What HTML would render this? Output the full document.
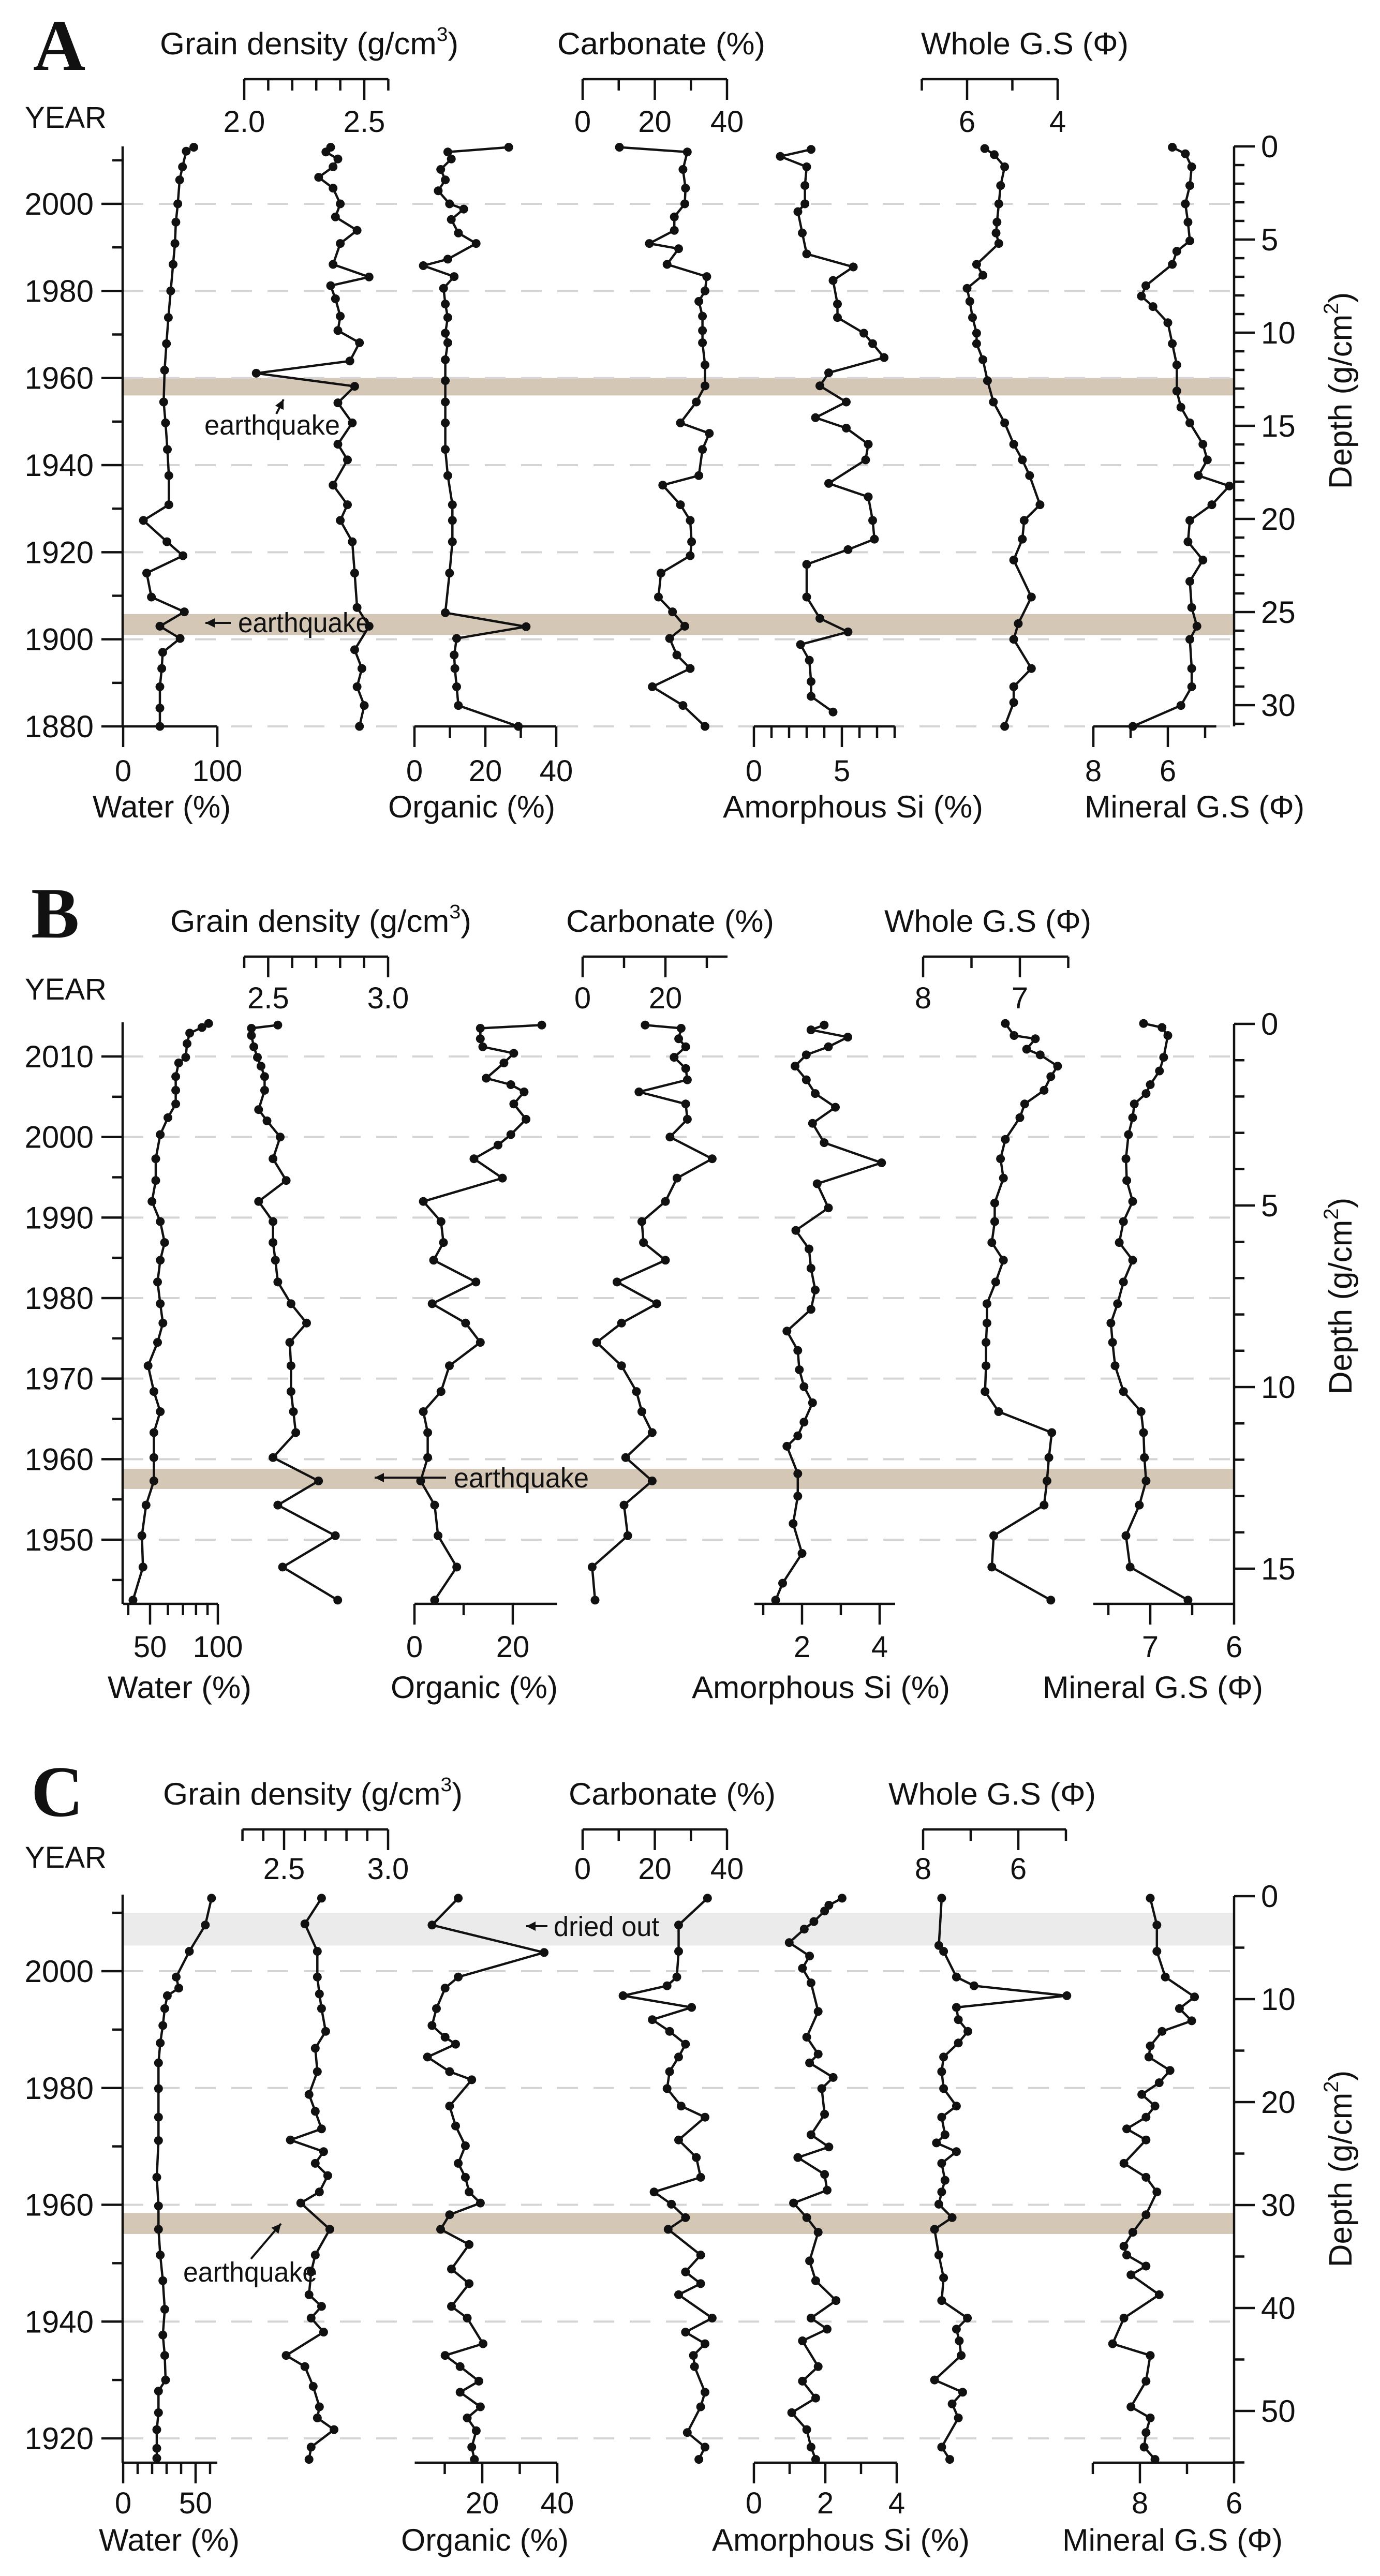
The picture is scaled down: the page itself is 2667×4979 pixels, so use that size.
<!DOCTYPE html>
<html><head><meta charset="utf-8"><style>
html,body{margin:0;padding:0;background:#fff;}
svg{display:block;}
text{font-family:"Liberation Sans",Arial,sans-serif;fill:#111;}
</style></head>
<body>
<svg id="fig" xmlns="http://www.w3.org/2000/svg" width="2667" height="4979" viewBox="0 0 2667 4979"></svg>
<script>
// ===== Panel A data =====
const A_water_year=[2013.0,2012.1,2008.5,2005.5,2000,1995.8,1990.9,1986.1,1980,1973.9,1967.9,1961.8,1954.5,1949.7,1943.6,1937.6,1930.9,1927.3,1922.4,1919.2,1915.2,1909.7,1906.3,1903,1900.2,1897,1893.3,1889.1,1884.2,1880];
const A_water=[75,67,63,60,58,56,55,53,50.5,48,46,44,43,45,47,48.5,48.5,21.5,46.5,63.5,25,30,65,39,60.5,42,41,39,39,39];
const A_grain_year=[2013,2011.9,2010.3,2008.5,2006.1,2003.6,2000,1997,1993.9,1990.9,1986.1,1983.2,1981.2,1978.2,1974.2,1970.9,1968.1,1963.9,1961.1,1958.1,1954.3,1949.7,1944.8,1941.2,1935.4,1930.9,1927.3,1922.4,1915.2,1907.3,1903,1897.6,1893.3,1889.1,1884.8,1880];
const A_grain=[2.36,2.34,2.39,2.37,2.31,2.37,2.40,2.38,2.47,2.40,2.37,2.52,2.36,2.38,2.40,2.39,2.48,2.44,2.05,2.46,2.39,2.45,2.39,2.43,2.37,2.43,2.40,2.45,2.46,2.47,2.52,2.46,2.49,2.47,2.50,2.48];
const A_org_year=[2013,2011.9,2010.3,2007.9,2005.5,2003,2000,1998.8,1996.4,1993.3,1990.9,1987.3,1985.8,1983.3,1980.6,1977,1973.9,1970.3,1968.1,1964.2,1959.4,1954.5,1949.7,1943.6,1937.6,1930.9,1927.3,1922.4,1915.2,1906.1,1902.9,1900.2,1896.4,1893.3,1889.1,1884.8,1880];
const A_org=[26.6,9.4,10.4,7.4,8.7,6.7,9.9,13.9,10.4,12.4,17.4,9.4,2.5,11.2,8.2,8.7,9.4,8.7,9.4,8.7,8.7,8.7,8.7,8.7,9.4,10.7,10.7,10.7,9.9,8.7,31.5,11.9,11.2,11.4,11.9,12.4,29.3];
const A_carb_year=[2013,2011.9,2007.9,2003.6,2000,1997,1993.9,1990.9,1989.7,1986.1,1983.3,1980,1977.6,1974.2,1970.9,1968.1,1963,1958.2,1954.5,1949.7,1947.3,1943.6,1937.6,1935.4,1930.9,1927.3,1922.4,1919.2,1915.2,1909.7,1906.3,1903,1900.2,1896.4,1893.3,1889.1,1884.8,1880];
const A_carb=[10.2,29,27.8,28.5,28.3,25.4,25.4,18.5,26.6,23.4,34.4,33.9,32.2,33.2,33.2,33.2,33.9,33.9,31.5,27.1,35.1,33.2,32.2,22.2,27.1,29.8,30.2,29.8,21.7,21,24.9,28.3,24.1,26.1,29.8,19.3,27.8,33.9];
const A_amor_year=[2012.5,2010.9,2008.5,2004.2,2000,1998.2,1993.3,1988.5,1985.5,1982.4,1977,1973.9,1970.3,1967.9,1964.7,1961.2,1958.2,1954.5,1950.9,1948.5,1944.8,1941.2,1935.8,1932.7,1927.3,1923,1920.6,1917.2,1909.7,1904.8,1901.7,1898.8,1895.2,1890.3,1886.9,1883.3];
const A_amor=[3.25,1.5,3,2.9,2.9,2.5,2.75,3,5.65,4.5,4.75,4.75,6.25,6.75,7.4,4.25,3.75,5.25,3.5,5.25,6.5,6.35,4.25,6.5,6.75,6.85,5.35,3,3,3.75,5.35,2.65,3.15,3.25,3.25,4.5];
const A_whole_year=[2012.7,2011.3,2008.5,2004.2,2000,1995.8,1993.3,1990.9,1986.1,1983.6,1980.6,1977.6,1973.9,1970.3,1967.9,1964.2,1959.4,1954.5,1949.7,1944.8,1941.2,1937.6,1930.9,1927.3,1923,1918.2,1909.7,1903.6,1900,1893.3,1889.1,1885.5,1880];
const A_whole=[5.61,5.4,5.17,5.26,5.3,5.34,5.36,5.3,5.79,5.65,6,5.94,5.88,5.79,5.79,5.65,5.55,5.42,5.17,4.97,4.78,4.62,4.39,4.74,4.78,4.97,4.58,4.87,4.97,4.58,4.97,4.97,5.17];
const A_min_year=[2013,2011.5,2008.5,2004.2,2000,1995.8,1991.5,1989.1,1986.1,1981.2,1978.8,1976.4,1972.7,1967.9,1963,1957,1953.3,1949.7,1944.8,1941.2,1937.6,1935.2,1930.9,1927.3,1922.4,1918.2,1913.3,1907.3,1903,1900,1893.3,1889.1,1884.8,1880];
const A_min=[5.88,5.53,5.36,5.41,5.53,5.46,5.41,5.76,5.88,6.59,6.71,6.4,6,5.88,5.76,5.76,5.65,5.41,5.06,4.94,5.18,4.35,4.82,5.41,5.46,5.06,5.41,5.36,5.22,5.41,5.36,5.36,5.65,6.94];
// ===== Panel B data =====
const B_water_year=[2014.1,2013.6,2012.9,2011.6,2009.9,2009.2,2007.5,2005.8,2004.1,2002.4,2000.3,1997.3,1994.6,1992,1989.5,1986.9,1984.7,1982,1979.3,1976.9,1974.5,1971.6,1968.4,1965.9,1963.3,1960.2,1957.3,1954.3,1950.5,1946.6,1942.5];
const B_water=[91,85,75,73,72,67,65,65,65,60,55.5,53,53,51,55.5,58,55.5,54,55.5,57,54,49,52,55.5,52,52,52,48,46,46.5,42];
const B_grain_year=[2013.9,2013.5,2012.6,2011.2,2009.9,2008.8,2007.5,2005.8,2003.4,2002,2000,1997.3,1994.6,1992,1989.5,1986.9,1984.7,1982,1979.3,1976.9,1974.5,1971.6,1968.4,1965.9,1963.3,1960.2,1957.3,1954.3,1950.5,1946.6,1942.5];
const B_grain=[2.54,2.43,2.43,2.44,2.455,2.47,2.485,2.485,2.46,2.495,2.55,2.52,2.575,2.46,2.52,2.52,2.53,2.54,2.595,2.66,2.59,2.595,2.595,2.605,2.615,2.52,2.71,2.54,2.78,2.56,2.79];
const B_org_year=[2013.9,2013.5,2012.2,2011.2,2010.4,2009.2,2007.3,2006.5,2005.6,2004.1,2002.2,2000.3,1999,1997.3,1994.9,1992,1989.5,1986.9,1984.7,1982,1979.3,1976.9,1974.5,1971.6,1968.4,1965.9,1963.3,1960.2,1957.3,1954.3,1950.5,1946.6,1942.5];
const B_org=[25.9,13.4,13.4,13.9,20.2,18.2,14.6,19.6,22.3,20.2,22.7,19.6,17,12.1,17.9,1.8,5.4,5.9,3.9,12.5,3.6,10.4,13.4,7.1,5.4,1.8,2.7,2.7,1.25,4.1,4.8,8.6,4.1];
const B_carb_year=[2013.9,2013.5,2012.2,2011.2,2009.9,2008.5,2007.1,2005.6,2004.1,2002.2,2000,1997.3,1994.9,1992,1989.5,1986.9,1984.7,1982,1979.3,1976.9,1974.5,1971.6,1968.4,1965.9,1963.3,1960.2,1957.3,1954.3,1950.5,1946.6,1942.5];
const B_carb=[15.1,23.8,23.2,24.9,22.1,24.9,25.3,13.6,24.9,25.3,21.1,31.3,22.8,20,14.3,14.7,20,8.3,17.9,9.4,3.4,9.4,13,14.3,16.8,10.4,16.8,10,10.9,2.3,3];
const B_amor_year=[2013.9,2013.3,2012.4,2011.2,2010.2,2008.8,2007.1,2005.4,2003.7,2001.7,1999.3,1996.8,1994.2,1991.2,1988.4,1986.1,1983.7,1981,1978.6,1975.9,1973.5,1971.1,1969,1967,1964.6,1962.9,1961.6,1958.2,1955.4,1952,1948.3,1944.6,1942.5];
const B_amor=[2.57,2.23,3.18,2.68,2.11,1.82,2.11,2.34,2.86,2.27,2.57,4.05,2.39,2.68,1.84,2.18,2.23,2.34,2.23,1.61,1.89,1.93,2.05,2.27,2.05,1.89,1.61,1.89,1.89,1.77,2,1.5,1.32];
const B_whole_year=[2014.1,2012.6,2012.2,2010.9,2010.2,2008.8,2007.5,2005.8,2004.1,2002.4,1999.7,1997.3,1994.9,1991.8,1989.5,1986.9,1984.7,1982,1979.3,1976.9,1974.5,1971.6,1968.4,1965.9,1963.3,1960.2,1957.3,1954.3,1950.5,1946.6,1942.5];
const B_whole=[7.15,7.06,6.84,6.93,6.79,6.61,6.68,6.75,6.95,7,7.15,7.2,7.17,7.26,7.26,7.29,7.17,7.25,7.34,7.34,7.35,7.35,7.36,7.22,6.67,6.7,6.72,6.75,7.27,7.29,6.68];
const B_min_year=[2014.1,2013.6,2012.6,2009.9,2008.2,2006.5,2005.4,2004.1,2002.4,2000.3,1997.3,1994.6,1992,1989.5,1986.9,1984.7,1982,1979.3,1976.9,1974.5,1971.6,1968.4,1965.9,1963.3,1960.2,1957.3,1954.3,1950.5,1946.6,1942.5];
const B_min=[7.08,6.86,6.79,6.84,6.89,7,7.05,7.19,7.21,7.26,7.29,7.28,7.21,7.32,7.37,7.21,7.32,7.39,7.47,7.45,7.42,7.32,7.11,7.08,7.07,7.05,7.13,7.29,7.24,6.55];
// ===== Panel C data =====
const C_water_year=[2012.5,2007.9,2003.4,1999,1997.1,1995.8,1993.6,1990.7,1987.7,1984.3,1979.9,1975,1971,1964.7,1959.8,1955.8,1951.4,1947,1942.1,1937.7,1934.2,1930,1928.1,1924.4,1921.5,1918.3,1916.6];
const C_water=[61,56.7,45.7,36.6,38.4,30.5,28.7,27.4,25.6,24.4,24.4,24.4,24.4,23.2,24.4,24.4,25.6,27.4,28.7,27.4,28.7,29.3,24.4,24.4,23.2,23.2,23.2];
const C_grain_year=[2012.5,2008.1,2003.4,1999,1996.1,1993.6,1989.7,1986.8,1982.8,1978.9,1976,1973,1971.1,1969.1,1967.1,1965,1962.2,1960.3,1955.8,1951.4,1948.5,1944.6,1942.6,1940.6,1938.2,1934.2,1932.3,1928.9,1925.4,1923.5,1921.5,1918.5,1916.4];
const C_grain=[2.68,2.6,2.66,2.66,2.67,2.68,2.70,2.65,2.66,2.62,2.65,2.68,2.53,2.69,2.65,2.71,2.67,2.58,2.72,2.65,2.63,2.62,2.68,2.63,2.69,2.51,2.6,2.64,2.67,2.66,2.74,2.63,2.62];
const C_org_year=[2012.5,2007.9,2003.2,1999,1997.1,1993.6,1990.7,1988.7,1987.5,1985.3,1982.8,1981.4,1976.9,1973.5,1970.1,1967.1,1964.7,1962.2,1960.3,1958.3,1955.8,1953.2,1949,1946.5,1942.6,1940.6,1936.2,1934.2,1932.3,1929.8,1927.9,1925.4,1923.5,1921.3,1918.5,1916.4];
const C_org=[13.6,6.6,36.5,13.6,10.1,7.8,6.6,10.1,12.9,5.4,11.3,17.2,11.3,12.9,15.5,13.6,15.5,16.5,19.5,11.3,8.9,16.5,11.8,16.5,11.8,16,20.2,10.1,14.1,19.1,14.1,19.5,16,18.4,17.2,17.9];
const C_carb_year=[2012.5,2007.9,2003.4,1999,1997.5,1995.8,1993.8,1991.7,1989.7,1987.5,1985.3,1982.8,1979.9,1976.9,1975,1971.1,1968.1,1964.7,1962.2,1960.1,1957.8,1955.8,1951.4,1948.5,1946.5,1944.6,1940.6,1938.2,1936.2,1934.2,1932.3,1927.9,1925.4,1921,1918.5,1916.4];
const C_carb=[34.6,26.6,26.6,26.1,23.4,11.2,30.2,19.3,24.1,28.5,26.6,24.1,23.4,27.3,33.9,26.6,31.5,32.7,19.8,24.6,28.5,23.7,32.7,28.5,32.7,26.6,35.9,28.5,33.9,30.7,31,33.9,32.7,29,33.9,32.2];
const C_amor_year=[2012.5,2011.3,2010.3,2008.5,2007.2,2004.9,2002.6,2000.5,1998,1993.1,1988.7,1985.8,1984.3,1981.8,1979.9,1975.5,1972,1969.9,1968.1,1965.2,1962.5,1960.3,1957.8,1955.3,1950.4,1947,1943.6,1940.6,1938.7,1936.7,1932.3,1929.8,1926.9,1924.4,1921.5,1918.5,1916.4];
const C_amor=[2.47,2.1,1.98,1.68,1.41,0.99,1.56,1.36,1.6,1.8,1.48,1.8,1.56,2.22,1.9,1.98,1.6,2.1,1.23,1.98,2.05,1.11,1.48,1.8,1.56,1.73,2.3,1.6,2.05,1.36,1.8,1.36,1.73,1.06,1.48,1.6,1.73];
const C_whole_year=[2012.5,2004.4,2003.4,1999,1997.5,1995.8,1993.8,1991.7,1989.7,1987.7,1985.3,1982.8,1979.9,1976.9,1975,1972,1970.6,1969.1,1967.1,1964.2,1962.2,1960.1,1957.8,1955.8,1951.4,1947.5,1943.6,1940.6,1938.7,1936.7,1934.2,1930,1927.9,1925.9,1923.5,1918.5,1916.4];
const C_whole=[7.61,7.67,7.57,7.3,6.93,4.98,7.3,7.26,7.06,7.26,7.57,7.61,7.57,7.3,7.61,7.54,7.72,7.3,7.61,7.54,7.61,7.67,7.39,7.76,7.67,7.57,7.61,7.07,7.3,7.24,7.2,7.76,7.17,7.39,7.26,7.61,7.44];
const C_min_year=[2012.5,2007.9,2003.4,1999,1995.6,1993.6,1991.5,1989.7,1987.2,1985.3,1983,1980.9,1978.9,1976.9,1975,1973,1971.1,1967.1,1964.7,1962.2,1958.3,1955.3,1952.9,1951.4,1949.5,1948,1944.6,1940.6,1936.2,1934.2,1929.8,1925.4,1923.5,1921,1918.5,1916.4];
const C_min=[7.78,7.64,7.64,7.46,6.84,7.16,6.9,7.53,7.78,7.81,7.36,7.59,7.96,7.68,7.87,8.28,7.87,8.34,7.87,7.64,7.87,8.15,8.34,8.28,7.87,8.19,7.59,8.34,8.58,7.78,7.87,8.19,7.78,7.87,7.91,7.68];

const NS="http://www.w3.org/2000/svg";
const svg=document.getElementById('fig');
function mk(tag,attrs,parent){const e=document.createElementNS(NS,tag);for(const k in attrs)e.setAttribute(k,attrs[k]);(parent||svg).appendChild(e);return e;}
function lin(d0,p0,d1,p1){return v=>p0+(v-d0)*(p1-p0)/(d1-d0);}
function logs(d0,p0,d1,p1){const a=Math.log10(d0),b=Math.log10(d1);return v=>p0+(Math.log10(v)-a)*(p1-p0)/(b-a);}
function txt(x,y,s,size,anchor,parent){const t=mk('text',{x:x,y:y,'font-size':size,'text-anchor':anchor||'start'},parent);t.textContent=s;return t;}
function fmt(v,d){return d?v.toFixed(d):String(v);}
const YAX=237, DAX=2385, LW=4.5;

function drawAxis(g,ax,yLine){
  const s=ax.scale;
  const x0=s(ax.domain[0]),x1=s(ax.domain[1]);
  const line=mk('line',{x1:x0,y1:yLine,x2:x1,y2:yLine,stroke:'#111','stroke-width':LW},g);
  
  
  ax.ticks.forEach(v=>{
    const maj=ax.major.indexOf(v)>=0;
    mk('line',{x1:s(v),y1:yLine,x2:s(v),y2:yLine+(maj?40:22),stroke:'#111','stroke-width':LW},g);
  });
  ax.labels.forEach(v=>{
    const t=txt(s(v),ax.labelY,fmt(v,ax.dec),58,'middle',g);
    
    
  });
  const tt=mk('text',{x:ax.title[0],y:ax.titleY,'font-size':60,textLength:ax.title[1]-ax.title[0],lengthAdjust:'spacingAndGlyphs'},g);
  
  
  if(ax.sup){tt.textContent=ax.text;const sp=mk('tspan',{'font-size':38,dy:-26},tt);sp.textContent=ax.sup;const c=mk('tspan',{dy:26},tt);c.textContent=')';}
  else tt.textContent=ax.text;
}

function drawSeries(g,P,name,years,vals,scale){
  const sg=mk('g',{},g);
  
  
  const pts=years.map((y,i)=>[scale(vals[i]),P.yy(y)]);
  const pl=mk('polyline',{points:pts.map(p=>p[0].toFixed(1)+','+p[1].toFixed(1)).join(' '),fill:'none',stroke:'#111','stroke-width':LW,'stroke-linejoin':'round'},sg);
  
  
  pts.forEach(p=>{
    const c=mk('circle',{cx:p[0].toFixed(1),cy:p[1].toFixed(1),r:8.5,fill:'#111'},sg);
    
    
  });
}

function arrow(g,x1,y1,x2,y2){
  mk('line',{x1:x1,y1:y1,x2:x2,y2:y2,stroke:'#111','stroke-width':4},g);
  const a=Math.atan2(y2-y1,x2-x1),L=18,W=9;
  const bx=x2-L*Math.cos(a),by=y2-L*Math.sin(a);
  mk('polygon',{points:`${x2},${y2} ${bx+W*Math.sin(a)},${by-W*Math.cos(a)} ${bx-W*Math.sin(a)},${by+W*Math.cos(a)}`,fill:'#111'},g);
}

function panel(P){
  const g=mk('g',{});
  
  
  // bands
  P.bands.forEach(b=>{
    const r=mk('rect',{x:YAX,y:P.yy(b[0]),width:DAX-YAX,height:P.yy(b[1])-P.yy(b[0]),fill:b[2]},g);
    
    
  });
  // grid
  P.grid.forEach(yr=>{
    const l=mk('line',{x1:YAX,y1:P.yy(yr),x2:DAX,y2:P.yy(yr),stroke:'#d4d4d4','stroke-width':4,'stroke-dasharray':'40 30'},g);
    
    
  });
  // panel letter and YEAR
  const L=mk('text',{x:P.letterX,y:P.letterY,'font-size':140,'font-weight':'bold',style:'font-family:"Liberation Serif",serif'},g);
  L.textContent=P.id;
  
  
  const Y=txt(48,P.yearLabelY,'YEAR',58,'start',g);
  
  
  // year axis
  const ya=mk('line',{x1:YAX,y1:P.top,x2:YAX,y2:P.bottom,stroke:'#111','stroke-width':LW},g);
  
  
  P.yTicks.forEach(yr=>{
    const maj=P.yLabels.indexOf(yr)>=0;
    mk('line',{x1:YAX,y1:P.yy(yr),x2:YAX-(maj?41:20),y2:P.yy(yr),stroke:'#111','stroke-width':LW},g);
  });
  P.yLabels.forEach(yr=>{
    const t=txt(181,P.yy(yr)+21,String(yr),60,'end',g);
    
    
  });
  // depth axis
  const da=mk('line',{x1:DAX,y1:P.dd(0),x2:DAX,y2:P.bottom,stroke:'#111','stroke-width':LW},g);
  
  
  P.dTicks.forEach(d=>{
    const maj=P.dLabels.indexOf(d)>=0;
    mk('line',{x1:DAX,y1:P.dd(d),x2:DAX+(maj?40:20),y2:P.dd(d),stroke:'#111','stroke-width':LW},g);
  });
  P.dLabels.forEach(d=>{
    const t=txt(2437,P.dd(d)+21,String(d),60,'start',g);
    
    
  });
  const dt=mk('text',{x:0,y:0,'font-size':62,'text-anchor':'middle',transform:`translate(2612,${P.depthTitleY}) rotate(-90)`},g);
  
  
  dt.textContent='Depth (g/cm';
  const s2=mk('tspan',{'font-size':40,dy:-26},dt);s2.textContent='2';
  const s3=mk('tspan',{dy:26},dt);s3.textContent=')';
  // axes
  P.axes.forEach(ax=>drawAxis(g,ax,ax.side==='top'?P.topY:P.bottom));
  // series
  P.series.forEach(s=>drawSeries(g,P,s[0],s[1],s[2],s[3].scale));
  // annotations
  P.notes.forEach(n=>{
    const ng=mk('g',{},g);
    
    
    arrow(ng,n.a[0],n.a[1],n.a[2],n.a[3]);
    const t=mk('text',{x:n.t[0],y:n.t[1],'font-size':54,textLength:n.t[2],lengthAdjust:'spacingAndGlyphs'},ng);
    t.textContent=n.s;
  });
}
function range(a,b,st){const r=[];for(let v=a;v<=b+1e-9;v+=st)r.push(Math.round(v*1000)/1000);return r;}

// ---------- Panel A ----------
const PA={id:'A',letterX:64,letterY:135,yearLabelY:247,top:283,bottom:1404,topY:153,
  yy:lin(2000,394,1880,1404),dd:lin(0,283,30,1363),depthTitleY:755,
  yTicks:range(1880,2010,10),yLabels:[1880,1900,1920,1940,1960,1980,2000],grid:range(1880,2000,20),
  dTicks:range(0,31,1),dLabels:[0,5,10,15,20,25,30],
  bands:[[1960,1956,'#d5c7b6','earthquake-band-1960'],[1905.8,1901,'#d5c7b6','earthquake-band-1903']],
  notes:[{name:'earthquake-annotation-1960',a:[534,800,548,772],t:[395,840,262],s:'earthquake'},
         {name:'earthquake-annotation-1903',a:[446,1204,397,1204],t:[460,1222,256],s:'earthquake'}]};
const aA={
 grain:{name:'grain-density',side:'top',scale:lin(2.0,472,2.5,704),domain:[2.0,2.6],ticks:range(2.0,2.6,0.1),major:[2,2.5],labels:[2.0,2.5],dec:1,labelY:255,titleY:105,title:[309,886],text:'Grain density (g/cm',sup:'3'},
 carb:{name:'carbonate',side:'top',scale:lin(0,1126,40,1405),domain:[0,40],ticks:[0,10,20,30,40],major:[0,20,40],labels:[0,20,40],labelY:255,titleY:105,title:[1077,1479],text:'Carbonate (%)'},
 whole:{name:'whole-grain-size',side:'top',scale:lin(6,1869,4,2044),domain:[7,4],ticks:[7,6,5,4],major:[6,4],labels:[6,4],labelY:255,titleY:105,title:[1780,2181],text:'Whole G.S (Φ)'},
 water:{name:'water',side:'bottom',scale:lin(0,238,100,420),domain:[0,100],ticks:[0,100],major:[0,100],labels:[0,100],labelY:1510,titleY:1580,title:[179,446],text:'Water (%)'},
 org:{name:'organic',side:'bottom',scale:lin(0,801,40,1075),domain:[0,40],ticks:[0,10,20,30,40],major:[0,20,40],labels:[0,20,40],labelY:1510,titleY:1580,title:[750,1073],text:'Organic (%)'},
 amor:{name:'amorphous-si',side:'bottom',scale:lin(0,1457,5,1627),domain:[0,8],ticks:range(0,8,1),major:[0,5],labels:[0,5],labelY:1510,titleY:1580,title:[1397,1900],text:'Amorphous Si (%)'},
 min:{name:'mineral-grain-size',side:'bottom',scale:lin(8,2113,6,2257),domain:[8,4.7],ticks:[8,7,6,5],major:[8,6],labels:[8,6],labelY:1510,titleY:1580,title:[2096,2521],text:'Mineral G.S (Φ)'}};
PA.axes=Object.values(aA);
PA.series=[['A-water',A_water_year,A_water,aA.water],['A-grain-density',A_grain_year,A_grain,aA.grain],['A-organic',A_org_year,A_org,aA.org],['A-carbonate',A_carb_year,A_carb,aA.carb],['A-amorphous-si',A_amor_year,A_amor,aA.amor],['A-whole-gs',A_whole_year,A_whole,aA.whole],['A-mineral-gs',A_min_year,A_min,aA.min]];
panel(PA);

// ---------- Panel B ----------
const PB={id:'B',letterX:60,letterY:1812,yearLabelY:1932,top:1976,bottom:3100,topY:1849,
  yy:lin(2010,2042,1950,2976),dd:lin(0,1979,10,2681),depthTitleY:2505,
  yTicks:range(1945,2010,5),yLabels:[1950,1960,1970,1980,1990,2000,2010],grid:range(1950,2010,10),
  dTicks:range(0,15,1),dLabels:[0,5,10,15],
  bands:[[1958.8,1956.3,'#d5c7b6','earthquake-band-1957']],
  notes:[{name:'earthquake-annotation-1957',a:[862,2856,724,2856],t:[877,2875,261],s:'earthquake'}]};
const aB={
 grain:{name:'grain-density',side:'top',scale:lin(2.4,472,3.0,750),domain:[2.4,3.0],ticks:range(2.4,3.0,0.1),major:[2.5,3],labels:[2.5,3.0],dec:1,labelY:1949,titleY:1801,title:[329,911],text:'Grain density (g/cm',sup:'3'},
 carb:{name:'carbonate',side:'top',scale:lin(0,1126,20,1286),domain:[0,35],ticks:[0,10,20,30],major:[0,20],labels:[0,20],labelY:1949,titleY:1801,title:[1094,1496],text:'Carbonate (%)'},
 whole:{name:'whole-grain-size',side:'top',scale:lin(8,1784,7,1971),domain:[8,6.5],ticks:[8,7.5,7,6.5],major:[8,7],labels:[8,7],labelY:1949,titleY:1801,title:[1709,2109],text:'Whole G.S (Φ)'},
 water:{name:'water',side:'bottom',scale:logs(50,290,100,421),domain:[38,100],ticks:[40,50,60,70,80,90,100],major:[50,100],labels:[50,100],labelY:3203,titleY:3282,title:[208,486],text:'Water (%)'},
 org:{name:'organic',side:'bottom',scale:lin(0,801,20,991),domain:[0,29],ticks:[0,10,20],major:[0,20],labels:[0,20],labelY:3203,titleY:3282,title:[755,1078],text:'Organic (%)'},
 amor:{name:'amorphous-si',side:'bottom',scale:lin(2,1550,4,1700),domain:[0.77,4.4],ticks:[1,2,3,4],major:[2,4],labels:[2,4],labelY:3203,titleY:3282,title:[1337,1836],text:'Amorphous Si (%)'},
 min:{name:'mineral-grain-size',side:'bottom',scale:lin(7,2223,6,2385),domain:[7.68,6],ticks:[7.5,7,6.5,6],major:[7,6],labels:[7,6],labelY:3203,titleY:3282,title:[2015,2441],text:'Mineral G.S (Φ)'}};
PB.axes=Object.values(aB);
PB.series=[['B-water',B_water_year,B_water,aB.water],['B-grain-density',B_grain_year,B_grain,aB.grain],['B-organic',B_org_year,B_org,aB.org],['B-carbonate',B_carb_year,B_carb,aB.carb],['B-amorphous-si',B_amor_year,B_amor,aB.amor],['B-whole-gs',B_whole_year,B_whole,aB.whole],['B-mineral-gs',B_min_year,B_min,aB.min]];
panel(PB);

// ---------- Panel C ----------
const PC={id:'C',letterX:60,letterY:3510,yearLabelY:3610,top:3662,bottom:4760,topY:3536,
  yy:lin(2000,3810,1920,4713),dd:lin(0,3665,50,4660),depthTitleY:4192,
  yTicks:range(1920,2010,10),yLabels:[1920,1940,1960,1980,2000],grid:range(1920,2000,20),
  dTicks:range(0,55,5),dLabels:[0,10,20,30,40,50],
  bands:[[2010,2004.4,'#ebebeb','dried-out-band'],[1958.6,1955,'#d5c7b6','earthquake-band-1957']],
  notes:[{name:'dried-out-annotation',a:[1058,3723,1017,3723],t:[1070,3742,204],s:'dried out'},
         {name:'earthquake-annotation-1957',a:[485,4366,543,4298],t:[354,4410,259],s:'earthquake'}]};
const aC={
 grain:{name:'grain-density',side:'top',scale:lin(2.5,549,3.0,750),domain:[2.3,3.0],ticks:range(2.3,3.0,0.1),major:[2.5,3],labels:[2.5,3.0],dec:1,labelY:3632,titleY:3488,title:[315,894],text:'Grain density (g/cm',sup:'3'},
 carb:{name:'carbonate',side:'top',scale:lin(0,1126,40,1405),domain:[0,40],ticks:[0,10,20,30,40],major:[0,20,40],labels:[0,20,40],labelY:3632,titleY:3488,title:[1099,1499],text:'Carbonate (%)'},
 whole:{name:'whole-grain-size',side:'top',scale:lin(8,1784,6,1968),domain:[8,5],ticks:[8,7,6,5],major:[8,6],labels:[8,6],labelY:3632,titleY:3488,title:[1717,2118],text:'Whole G.S (Φ)'},
 water:{name:'water',side:'bottom',scale:lin(0,238,50,378),domain:[0,65],ticks:[0,10,20,30,40,50,60],major:[0,50],labels:[0,50],labelY:4858,titleY:4930,title:[191,463],text:'Water (%)'},
 org:{name:'organic',side:'bottom',scale:lin(20,932,40,1077),domain:[2,40],ticks:[10,20,30,40],major:[20,40],labels:[20,40],labelY:4858,titleY:4930,title:[775,1099],text:'Organic (%)'},
 amor:{name:'amorphous-si',side:'bottom',scale:lin(0,1457,4,1733),domain:[0,4],ticks:[0,1,2,3,4],major:[0,2,4],labels:[0,2,4],labelY:4858,titleY:4930,title:[1376,1874],text:'Amorphous Si (%)'},
 min:{name:'mineral-grain-size',side:'bottom',scale:lin(8,2203,6,2385),domain:[9,6],ticks:[9,8,7,6],major:[8,6],labels:[8,6],labelY:4858,titleY:4930,title:[2053,2479],text:'Mineral G.S (Φ)'}};
PC.axes=Object.values(aC);
PC.series=[['C-water',C_water_year,C_water,aC.water],['C-grain-density',C_grain_year,C_grain,aC.grain],['C-organic',C_org_year,C_org,aC.org],['C-carbonate',C_carb_year,C_carb,aC.carb],['C-amorphous-si',C_amor_year,C_amor,aC.amor],['C-whole-gs',C_whole_year,C_whole,aC.whole],['C-mineral-gs',C_min_year,C_min,aC.min]];
panel(PC);
</script>
</body></html>
